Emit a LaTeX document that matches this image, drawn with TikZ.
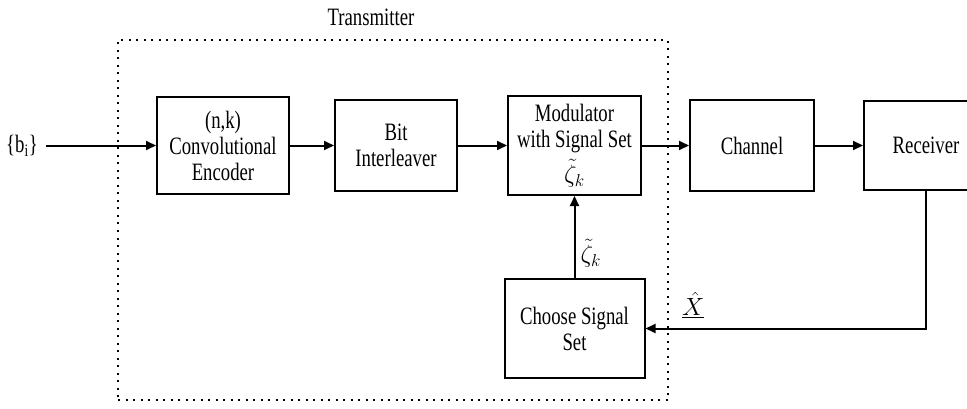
\documentclass[tikz,border=0pt]{standalone}
\usepackage{fontspec}
\setmainfont{Liberation Serif}[FakeStretch=0.75]
\usetikzlibrary{arrows.meta,positioning}

\begin{document}
\begin{tikzpicture}[x=1pt, y=1pt,
  blk/.style={draw, line width=2pt, align=center, inner sep=0pt,
    font=\fontsize{25}{26}\selectfont},
  sym/.style={inner sep=1pt, font=\fontsize{23}{23}\selectfont},
  txt/.style={inner sep=0pt, font=\fontsize{25}{26}\selectfont},
  arr/.style={-{Triangle[length=10pt,width=9pt]}, line width=2pt},
  frame/.style={draw, line width=2pt, dash pattern=on 2pt off 5.5pt}]
\useasboundingbox (0,0) rectangle (967,408);
\node[frame, minimum width=550pt, minimum height=360pt] (tx) at (393,188) {};
\node[txt] (txlbl) at (371,391) {Transmitter};
\node[blk, minimum width=132pt, minimum height=97pt] (enc) at (223,262.5)
  {(n,k)\\Convolutional\\Encoder};
\node[blk, minimum width=122pt, minimum height=91pt, right=44pt of enc] (intl)
  {Bit\\Interleaver};
\node[blk, minimum width=133pt, minimum height=99pt, right=49pt of intl] (mod)
  {Modulator\\with Signal Set\\[6pt]$\tilde{\zeta}_k$};
\node[blk, minimum width=124pt, minimum height=91pt, right=47pt of mod] (chan) {Channel};
\node[blk, minimum width=124pt, minimum height=89pt, right=48pt of chan] (rec) {Receiver};
\node[blk, minimum width=140pt, minimum height=99pt, below=82pt of mod] (sel)
  {Choose Signal\\Set};
\node[txt, inner sep=8pt] (bits) at (22,262.5) {\{b\textsubscript{i}\}};
\draw[arr] (bits) -- (enc);
\draw[arr] (enc) -- (intl);
\draw[arr] (intl) -- (mod);
\draw[arr] (mod) -- (chan);
\draw[arr] (chan) -- (rec);
\draw[arr] (sel) -- node[sym, right=4pt, pos=0.3] (zsel) {$\tilde{\zeta}_k$} (mod);
\draw[arr] (rec) |- node[sym, above=9pt, pos=0.915, font=\fontsize{27}{27}\selectfont] (xhat)
  {$\underline{\hat{X}}$} (sel);
\end{tikzpicture}
\end{document}
